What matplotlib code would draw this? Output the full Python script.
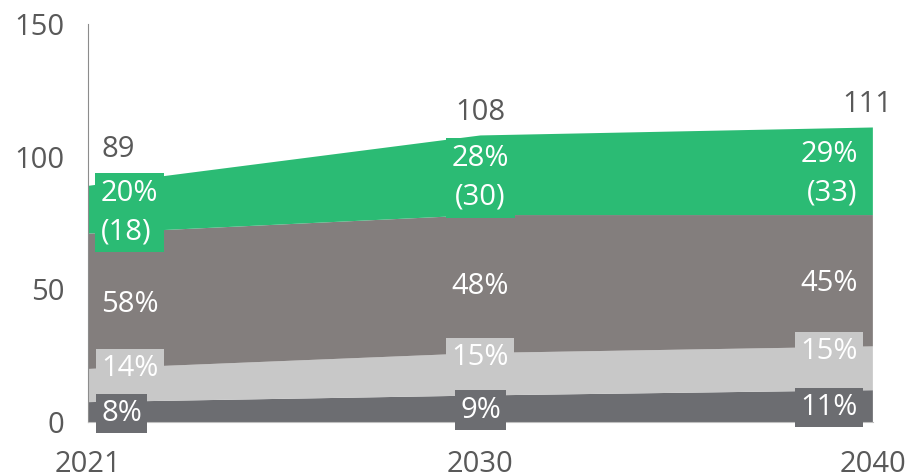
import matplotlib.pyplot as plt
import numpy as np

years = ['2021', '2030', '2040']
dark = [7.5, 10, 12]
light = [12.5, 16, 16.5]
mid = [51, 52, 49.5]
green = [18, 30, 33]
totals = [89, 108, 111]
pct_dark = ['8%', '9%', '11%']
pct_light = ['14%', '15%', '15%']
pct_mid = ['58%', '48%', '45%']
pct_green = ['20%', '28%', '29%']

c_dark = '#6c6d71'
c_light = '#c8c8c8'
c_mid = '#837e7d'
c_green = '#2bbb74'
c_text = '#595959'

plt.rcParams['font.family'] = ['Open Sans', 'DejaVu Sans']

fig = plt.figure(figsize=(9.19, 4.76), dpi=100)
ax = fig.add_axes([0.0958, 0.1134, 0.854, 0.8362])

x = np.arange(len(years))
ax.stackplot(x, dark, light, mid, green, colors=[c_dark, c_light, c_mid, c_green])

ax.set_xlim(0, 2)
ax.set_ylim(0, 150)
ax.set_yticks([0, 50, 100, 150])
ax.set_xticks(x)
ax.set_xticklabels(years)
ax.tick_params(length=0, labelsize=21, labelcolor=c_text)
ax.tick_params(axis='y', pad=17)
ax.tick_params(axis='x', pad=20)
for s in ['top', 'right']:
    ax.spines[s].set_visible(False)
ax.spines['left'].set_color('#8c8c8c')
ax.spines['bottom'].set_color('#bfbfbf')

# label placement per column (offsets in px)
offs = [13, 0, -15]
aligns = ['left', 'center', 'right']
top_off = [36, 23, 23]

d = np.array(dark)
l = np.array(light)
m = np.array(mid)
g = np.array(green)
fs = 21

for i in range(3):
    kw = dict(textcoords='offset points', ha=aligns[i], va='center',
              color='white', fontsize=fs)
    dx = offs[i] * 0.72
    ax.annotate(pct_dark[i], (x[i], d[i] / 2), xytext=(dx, -1), **kw,
                bbox=dict(boxstyle='square,pad=0.18', fc=c_dark, ec='none'))
    ax.annotate(pct_light[i], (x[i], d[i] + l[i] / 2), xytext=(dx, 12), **kw,
                bbox=dict(boxstyle='square,pad=0.18', fc=c_light, ec='none'))
    ax.annotate(pct_mid[i], (x[i], d[i] + l[i] + m[i] / 2), xytext=(dx, -2), **kw)
    ax.annotate(pct_green[i] + '\n(' + str(green[i]) + ')',
                (x[i], d[i] + l[i] + m[i] + g[i] / 2), xytext=(dx, -2), **kw,
                linespacing=1.45,
                bbox=dict(boxstyle='square,pad=0.2', fc=c_green, ec='none'))
    tx = dx if i < 2 else 14
    ax.annotate(str(totals[i]), (x[i], totals[i]), xytext=(tx, top_off[i] * 0.72),
                textcoords='offset points', ha=aligns[i], va='center',
                color=c_text, fontsize=fs)

fig.savefig('out.png', dpi=100)
